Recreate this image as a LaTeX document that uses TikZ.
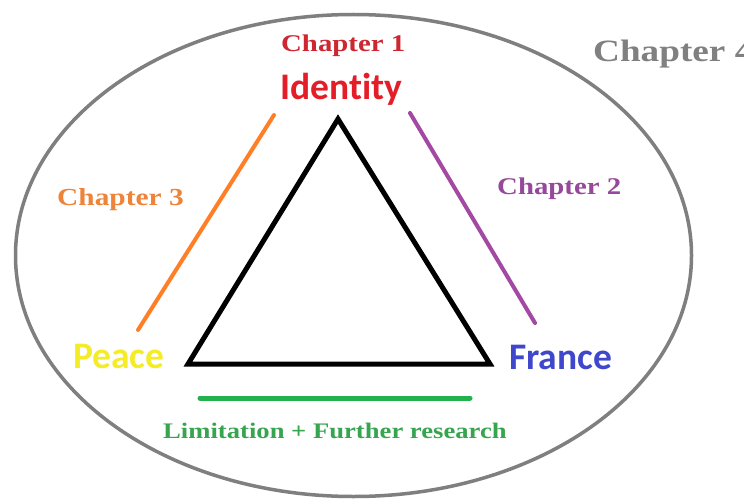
\documentclass[tikz,border=0pt]{standalone}
\usepackage{fontspec}
\newfontfamily\chapfont[FakeStretch=1.2]{Liberation Serif}
\newfontfamily\keyfont[Ligatures=NoCommon]{Carlito}
\definecolor{idred}{RGB}{228,30,40}
\definecolor{chred}{RGB}{205,40,50}
\definecolor{chorange}{RGB}{238,132,58}
\definecolor{lnorange}{RGB}{255,127,39}
\definecolor{chpurple}{RGB}{150,72,155}
\definecolor{lnpurple}{RGB}{163,73,164}
\definecolor{chgreen}{RGB}{55,165,80}
\definecolor{lngreen}{RGB}{34,177,76}
\definecolor{peaceyellow}{RGB}{245,236,40}
\definecolor{franceblue}{RGB}{63,72,204}
\definecolor{ringgray}{RGB}{127,127,127}
\definecolor{chgray}{RGB}{128,128,128}
\tikzset{
  chaplabel/.style={anchor=base west, inner sep=0pt, font=\chapfont\bfseries},
  keylabel/.style={anchor=base west, inner sep=0pt, font=\keyfont\bfseries\fontsize{37.5}{42}\selectfont},
  sideline/.style={line width=4pt, line cap=round},
}
\begin{document}
\begin{tikzpicture}[x=1pt, y=-1pt]
  \useasboundingbox (0,0) rectangle (744,500);
  \clip (0,0) rectangle (744,500);
  \fill[white] (0,0) rectangle (744,500);

  % outer ring (chapter 4)
  \draw[ringgray, line width=3.5pt] (353.5,255.5) ellipse [x radius=338, y radius=241];

  % the central triangle
  \coordinate (apex) at (338,119);
  \coordinate (left) at (188,364);
  \coordinate (right) at (490,364);
  \draw[black, line width=5pt, line join=miter] (apex) -- (left) -- (right) -- cycle;

  % chapter lines along the sides
  \coordinate (o1) at (274,115);
  \coordinate (o2) at (138,330);
  \coordinate (p1) at (410,113);
  \coordinate (p2) at (535,323);
  \coordinate (g1) at (200,398);
  \coordinate (g2) at (470,398);
  \draw[sideline, lnorange] (o1) -- (o2);
  \draw[sideline, lnpurple] (p1) -- (p2);
  \draw[sideline, lngreen, line width=5pt] (g1) -- (g2);

  % labels
  \node[keylabel, idred] (identity) at (280,100) {Identity};
  \node[keylabel, peaceyellow] (peace) at (73,368) {Peace};
  \node[keylabel, franceblue] (france) at (509,369) {France};

  \node[chaplabel, chred, font=\chapfont\bfseries\fontsize{24}{27}\selectfont] (ch1) at (281,52) {Chapter 1};
  \node[chaplabel, chpurple, font=\chapfont\bfseries\fontsize{24}{27}\selectfont] (ch2) at (497,194) {Chapter 2};
  \node[chaplabel, chorange, font=\chapfont\bfseries\fontsize{24.5}{27}\selectfont] (ch3) at (57,205) {Chapter 3};
  \node[chaplabel, chgray, font=\chapfont\bfseries\fontsize{31}{34}\selectfont] (ch4) at (593,62) {Chapter 4};
  \node[chaplabel, chgreen, font=\chapfont\bfseries\fontsize{22.2}{25}\selectfont] (limits) at (163,438) {Limitation + Further research};
\end{tikzpicture}
\end{document}
